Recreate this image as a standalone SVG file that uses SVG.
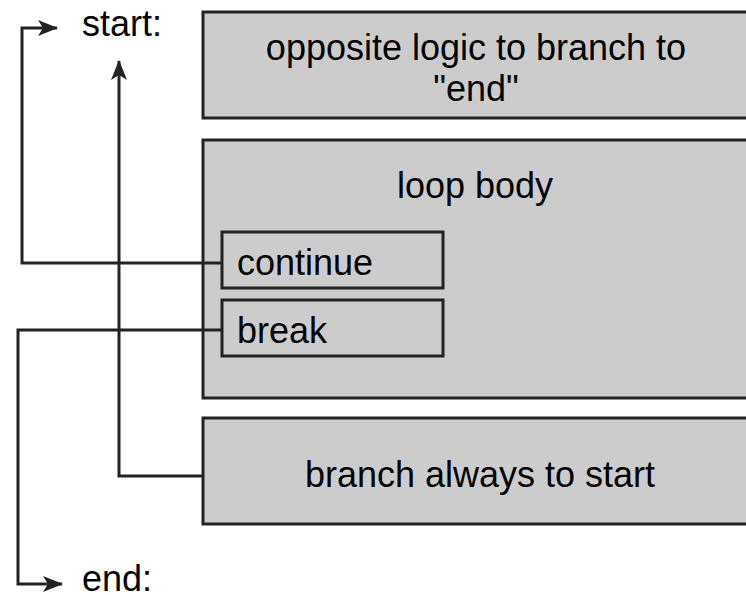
<svg xmlns="http://www.w3.org/2000/svg" width="746" height="595" viewBox="0 0 746 595">
  <style>
    .box { fill: #cccccc; stroke: #222222; stroke-width: 3; }
    .wire { fill: none; stroke: #222222; stroke-width: 3; }
    text { font-family: "Liberation Sans", Arial, sans-serif; font-size: 36px; fill: #000000; }
    .mid { text-anchor: middle; }
  </style>
  <defs>
    <marker id="arrow" viewBox="0 0 20 16" refX="19" refY="8" markerWidth="20" markerHeight="16" markerUnits="userSpaceOnUse" orient="auto">
      <path d="M0,0 L20,8 L0,16 L5,8 Z" fill="#222222"/>
    </marker>
  </defs>

  <g id="labels">
    <text x="82" y="36">start:</text>
    <text x="82" y="591">end:</text>
  </g>

  <g id="cond">
    <rect class="box" x="203" y="12" width="550" height="106"/>
    <text class="mid" x="476" y="60">opposite logic to branch to</text>
    <text class="mid" x="476" y="101">"end"</text>
  </g>

  <g id="body">
    <rect class="box" x="203" y="140" width="550" height="258"/>
    <text class="mid" x="475" y="198">loop body</text>
  </g>

  <g id="continue">
    <rect class="box" x="222" y="232" width="221" height="56"/>
    <text x="237" y="275">continue</text>
  </g>

  <g id="break">
    <rect class="box" x="222" y="300" width="221" height="56"/>
    <text x="237" y="343">break</text>
  </g>

  <g id="jump">
    <rect class="box" x="203" y="418" width="550" height="106"/>
    <text class="mid" x="480" y="487">branch always to start</text>
  </g>

  <g id="connectors">
    <path class="wire" d="M222,263 H22 V28 H57" marker-end="url(#arrow)"/>
    <path class="wire" d="M222,330 H18 V584 H62" marker-end="url(#arrow)"/>
    <path class="wire" d="M203,476 H119 V61" marker-end="url(#arrow)"/>
  </g>
</svg>
